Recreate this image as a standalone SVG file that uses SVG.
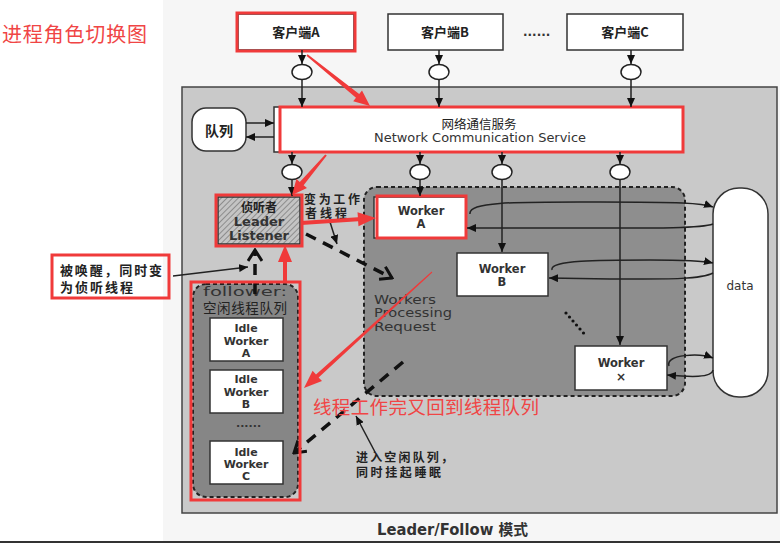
<svg xmlns="http://www.w3.org/2000/svg" width="780" height="543" viewBox="0 0 780 543">
<defs>
<style>
.cj{font-family:"Noto Sans CJK SC","Noto Sans",sans-serif;font-weight:bold;fill:#222}
.cjn{font-family:"Noto Sans CJK SC","Noto Sans",sans-serif;fill:#222}
.lt{font-family:"DejaVu Sans","Noto Sans CJK SC",sans-serif;font-weight:bold;fill:#333}
.ltn{font-family:"DejaVu Sans","Noto Sans CJK SC",sans-serif;fill:#333}
.red{font-family:"Noto Sans CJK SC","Noto Sans",sans-serif;fill:#f04545}
.box{fill:#fff;stroke:#333;stroke-width:1.5}
.rb{fill:none;stroke:#f03a3a;stroke-width:3}
.ra{fill:#f03a3a}
.ln{stroke:#222;stroke-width:1.5;fill:none}
.dash{stroke:#111;stroke-width:3.5;stroke-dasharray:11 8;fill:none}
.cir{fill:#fff;stroke:#222;stroke-width:1.5}
</style>
<marker id="ah" markerUnits="userSpaceOnUse" markerWidth="9" markerHeight="8" refX="9" refY="4" orient="auto"><path d="M0,0 L9,4 L0,8 z" fill="#111"/></marker>
<marker id="ch" markerUnits="userSpaceOnUse" markerWidth="14" markerHeight="16" refX="12" refY="8" orient="auto"><path d="M1,1 L12,8 L1,15" fill="none" stroke="#111" stroke-width="3"/></marker>
<pattern id="hatch" width="4" height="4" patternUnits="userSpaceOnUse" patternTransform="rotate(45)"><rect width="4" height="4" fill="#c4c4c4"/><line x1="0" y1="0" x2="0" y2="4" stroke="#7a7a7a" stroke-width="1.5"/></pattern>
</defs>
<rect width="780" height="543" fill="#fff"/>
<rect x="163" y="0" width="617" height="541" fill="#f6f6f6"/>
<rect x="0" y="541" width="780" height="2" fill="#333"/>
<text class="red" x="2" y="42" font-size="20" textLength="145">进程角色切换图</text>

<g id="outer"><rect x="182" y="87" width="595" height="426" fill="#c9c9c9" stroke="#444" stroke-width="1.5"/></g>
<g id="workers-region"><rect x="364" y="187" width="321" height="209" rx="13" fill="#8e8e8e" stroke="#222" stroke-width="2" stroke-dasharray="4 3"/></g>
<g id="follower-region"><rect x="193" y="284" width="105" height="213" rx="13" fill="#868686" stroke="#222" stroke-width="2" stroke-dasharray="4 3"/>
<text class="ltn" x="203" y="296" font-size="13" textLength="84" lengthAdjust="spacingAndGlyphs">follower:</text>
<text class="cjn" x="203" y="313" font-size="13.5" textLength="84">空闲线程队列</text></g>

<g id="clientA"><rect class="box" x="238" y="14" width="116" height="36"/><text class="cj" x="296" y="37" font-size="13" text-anchor="middle">客户端A</text><rect class="rb" x="237" y="13" width="118" height="38"/></g>
<g id="clientB"><rect class="box" x="388" y="14" width="115" height="36"/><text class="cj" x="445" y="37" font-size="13" text-anchor="middle">客户端B</text></g>
<text class="lt" x="523" y="36" font-size="12">......</text>
<g id="clientC"><rect class="box" x="567" y="14" width="116" height="36"/><text class="cj" x="625" y="37" font-size="13" text-anchor="middle">客户端C</text></g>

<g id="service"><rect class="box" x="274" y="107" width="409" height="45"/><rect class="rb" x="280" y="107" width="403" height="45"/>
<text class="cjn" x="479" y="129" font-size="12.5" text-anchor="middle">网络通信服务</text>
<text class="ltn" x="480" y="142" font-size="12" text-anchor="middle" textLength="212" lengthAdjust="spacingAndGlyphs">Network Communication Service</text></g>

<g id="queue"><rect class="box" x="192" y="108" width="54" height="43" rx="14"/><text class="cj" x="219" y="136" font-size="14" text-anchor="middle">队列</text></g>

<g id="leader"><rect x="218" y="197" width="82" height="47" fill="url(#hatch)" stroke="#333" stroke-width="1.5"/>
<text class="cj" x="259" y="212" font-size="12" text-anchor="middle">侦听者</text>
<text class="lt" x="259" y="226" font-size="13" text-anchor="middle">Leader</text>
<text class="lt" x="259" y="240" font-size="13" text-anchor="middle">Listener</text>
<rect class="rb" x="216" y="195" width="86" height="51"/></g>
<text class="cj" x="304" y="204" font-size="12" textLength="56">变为工作</text>
<text class="cj" x="305" y="218" font-size="12" textLength="42">者线程</text>

<g id="workerA"><rect class="box" x="374" y="197" width="92" height="41"/><text class="lt" x="421" y="215" font-size="11.5" text-anchor="middle">Worker</text><text class="lt" x="421" y="228" font-size="11.5" text-anchor="middle">A</text><rect class="rb" x="377" y="196" width="89" height="42"/></g>
<g id="workerB"><rect class="box" x="457" y="253" width="91" height="43"/><text class="lt" x="502" y="273" font-size="11.5" text-anchor="middle">Worker</text><text class="lt" x="502" y="286" font-size="11.5" text-anchor="middle">B</text></g>
<g id="workerX"><rect class="box" x="575" y="346" width="92" height="44"/><text class="lt" x="621" y="367" font-size="11.5" text-anchor="middle">Worker</text><text class="lt" x="621" y="381" font-size="12" text-anchor="middle">×</text></g>
<g id="data"><rect class="box" x="713" y="188" width="55" height="209" rx="26"/><text class="ltn" x="740" y="290" font-size="12" text-anchor="middle">data</text></g>

<text class="ltn" x="374" y="304" font-size="13" textLength="62" lengthAdjust="spacingAndGlyphs">Workers</text>
<text class="ltn" x="374" y="317" font-size="13" textLength="78" lengthAdjust="spacingAndGlyphs">Processing</text>
<text class="ltn" x="374" y="331" font-size="13" textLength="62" lengthAdjust="spacingAndGlyphs">Request</text>

<g id="idleA"><rect class="box" x="210" y="318" width="73" height="43"/><text class="lt" x="246" y="332" font-size="11" text-anchor="middle">Idle</text><text class="lt" x="246" y="345" font-size="11" text-anchor="middle">Worker</text><text class="lt" x="246" y="357" font-size="11" text-anchor="middle">A</text></g>
<g id="idleB"><rect class="box" x="210" y="370" width="73" height="43"/><text class="lt" x="246" y="383" font-size="11" text-anchor="middle">Idle</text><text class="lt" x="246" y="396" font-size="11" text-anchor="middle">Worker</text><text class="lt" x="246" y="408" font-size="11" text-anchor="middle">B</text></g>
<text class="lt" x="236" y="427" font-size="11">......</text>
<g id="idleC"><rect class="box" x="210" y="441" width="73" height="43"/><text class="lt" x="246" y="456" font-size="11" text-anchor="middle">Idle</text><text class="lt" x="246" y="468" font-size="11" text-anchor="middle">Worker</text><text class="lt" x="246" y="480" font-size="11" text-anchor="middle">C</text></g>

<g id="annot"><rect class="rb" x="52" y="255" width="117" height="43"/>
<text class="cj" x="60" y="275" font-size="13" textLength="102">被唤醒，同时变</text>
<text class="cj" x="60" y="292" font-size="13" textLength="73">为侦听线程</text></g>

<text class="cj" x="356" y="462" font-size="12" textLength="97">进入空闲队列，</text>
<text class="cj" x="356" y="477" font-size="12" textLength="85">同时挂起睡眠</text>

<g id="connectors">
<line class="ln" x1="302" y1="50" x2="302" y2="64" marker-end="url(#ah)"/>
<ellipse class="cir" cx="302" cy="72" rx="10" ry="7.5"/>
<line class="ln" x1="302" y1="80" x2="302" y2="107" marker-end="url(#ah)"/>
<line class="ln" x1="439" y1="50" x2="439" y2="64" marker-end="url(#ah)"/>
<ellipse class="cir" cx="439" cy="72" rx="10" ry="7.5"/>
<line class="ln" x1="439" y1="80" x2="439" y2="107" marker-end="url(#ah)"/>
<line class="ln" x1="631" y1="50" x2="631" y2="64" marker-end="url(#ah)"/>
<ellipse class="cir" cx="631" cy="72" rx="10" ry="7.5"/>
<line class="ln" x1="631" y1="80" x2="631" y2="107" marker-end="url(#ah)"/>

<line class="ln" x1="246" y1="123" x2="274" y2="123" marker-end="url(#ah)"/>
<line class="ln" x1="274" y1="137" x2="246" y2="137" marker-end="url(#ah)"/>

<line class="ln" x1="292" y1="152" x2="292" y2="164" marker-end="url(#ah)"/>
<ellipse class="cir" cx="292" cy="172" rx="10" ry="7.5"/>
<line class="ln" x1="292" y1="180" x2="292" y2="196" marker-end="url(#ah)"/>
<line class="ln" x1="420" y1="152" x2="420" y2="164" marker-end="url(#ah)"/>
<ellipse class="cir" cx="420" cy="172" rx="10" ry="7.5"/>
<line class="ln" x1="420" y1="180" x2="420" y2="196" marker-end="url(#ah)"/>
<line class="ln" x1="502" y1="152" x2="502" y2="164" marker-end="url(#ah)"/>
<ellipse class="cir" cx="502" cy="172" rx="10" ry="7.5"/>
<line class="ln" x1="502" y1="180" x2="502" y2="252" marker-end="url(#ah)"/>
<line class="ln" x1="620" y1="152" x2="620" y2="164" marker-end="url(#ah)"/>
<ellipse class="cir" cx="620" cy="172" rx="10" ry="7.5"/>
<line class="ln" x1="620" y1="180" x2="620" y2="345" marker-end="url(#ah)"/>

<path class="ln" d="M470,214 C468,201 520,202 600,202 C680,202 702,203 713,207" marker-end="url(#ah)"/>
<path class="ln" d="M713,224 C700,229 640,228 560,228 L467,228" marker-end="url(#ah)"/>
<path class="ln" d="M552,270 C549,260 600,260 650,260 C690,260 704,261 713,263" marker-end="url(#ah)"/>
<path class="ln" d="M713,273 C700,280 660,279 610,279 L549,278" marker-end="url(#ah)"/>
<path class="ln" d="M669,366 C665,354 700,353 713,358" marker-end="url(#ah)"/>
<path class="ln" d="M713,370 C712,378 690,377 667,375" marker-end="url(#ah)"/>

<g fill="#111"><circle cx="566" cy="313" r="1.6"/><circle cx="569.5" cy="317" r="1.6"/><circle cx="573" cy="321" r="1.6"/><circle cx="576.5" cy="325" r="1.6"/><circle cx="580" cy="329" r="1.6"/><circle cx="583.5" cy="333" r="1.6"/></g>

<line class="ln" x1="330" y1="222" x2="337" y2="244" marker-end="url(#ah)"/>
<line class="ln" x1="173" y1="276" x2="248" y2="267" marker-end="url(#ah)"/>
<line class="ln" x1="375" y1="452" x2="356" y2="416" marker-end="url(#ah)"/>

<line class="dash" x1="306" y1="234" x2="392" y2="278" marker-end="url(#ch)"/>
<line class="dash" x1="255" y1="294" x2="255" y2="250" marker-end="url(#ch)"/>
<line class="dash" x1="403" y1="362" x2="294" y2="453" marker-end="url(#ch)"/>

<polygon class="ra" points="306.4,55.8 356.0,97.8 353.2,101.3 370,106 362.0,90.5 359.2,93.9 307.6,54.2"/>
<polygon class="ra" points="326.8,155.6 303.6,185.2 307.0,188.1 292,195 296.4,179.1 299.8,182.0 325.2,154.4"/>
<polygon class="ra" points="301.1,225 358.1,221.2 358.5,226.2 376,218 357.5,212.2 357.9,217.2 300.9,221"/>
<polygon class="ra" points="283,283 283,262 278,262 285,245 292,262 287,262 287,283"/>
<polygon class="ra" points="432.3,272.4 318.6,377.4 322.0,381.1 304,388 312.6,370.7 316.0,374.4 431.7,271.6"/>
</g>

<g id="follower-border"><rect class="rb" x="191" y="282" width="109" height="218"/></g>
<text class="red" x="313" y="414" font-size="18.5" textLength="226">线程工作完又回到线程队列</text>
<text class="lt" x="377" y="535" font-size="15" textLength="151" lengthAdjust="spacingAndGlyphs">Leader/Follow 模式</text>
</svg>
